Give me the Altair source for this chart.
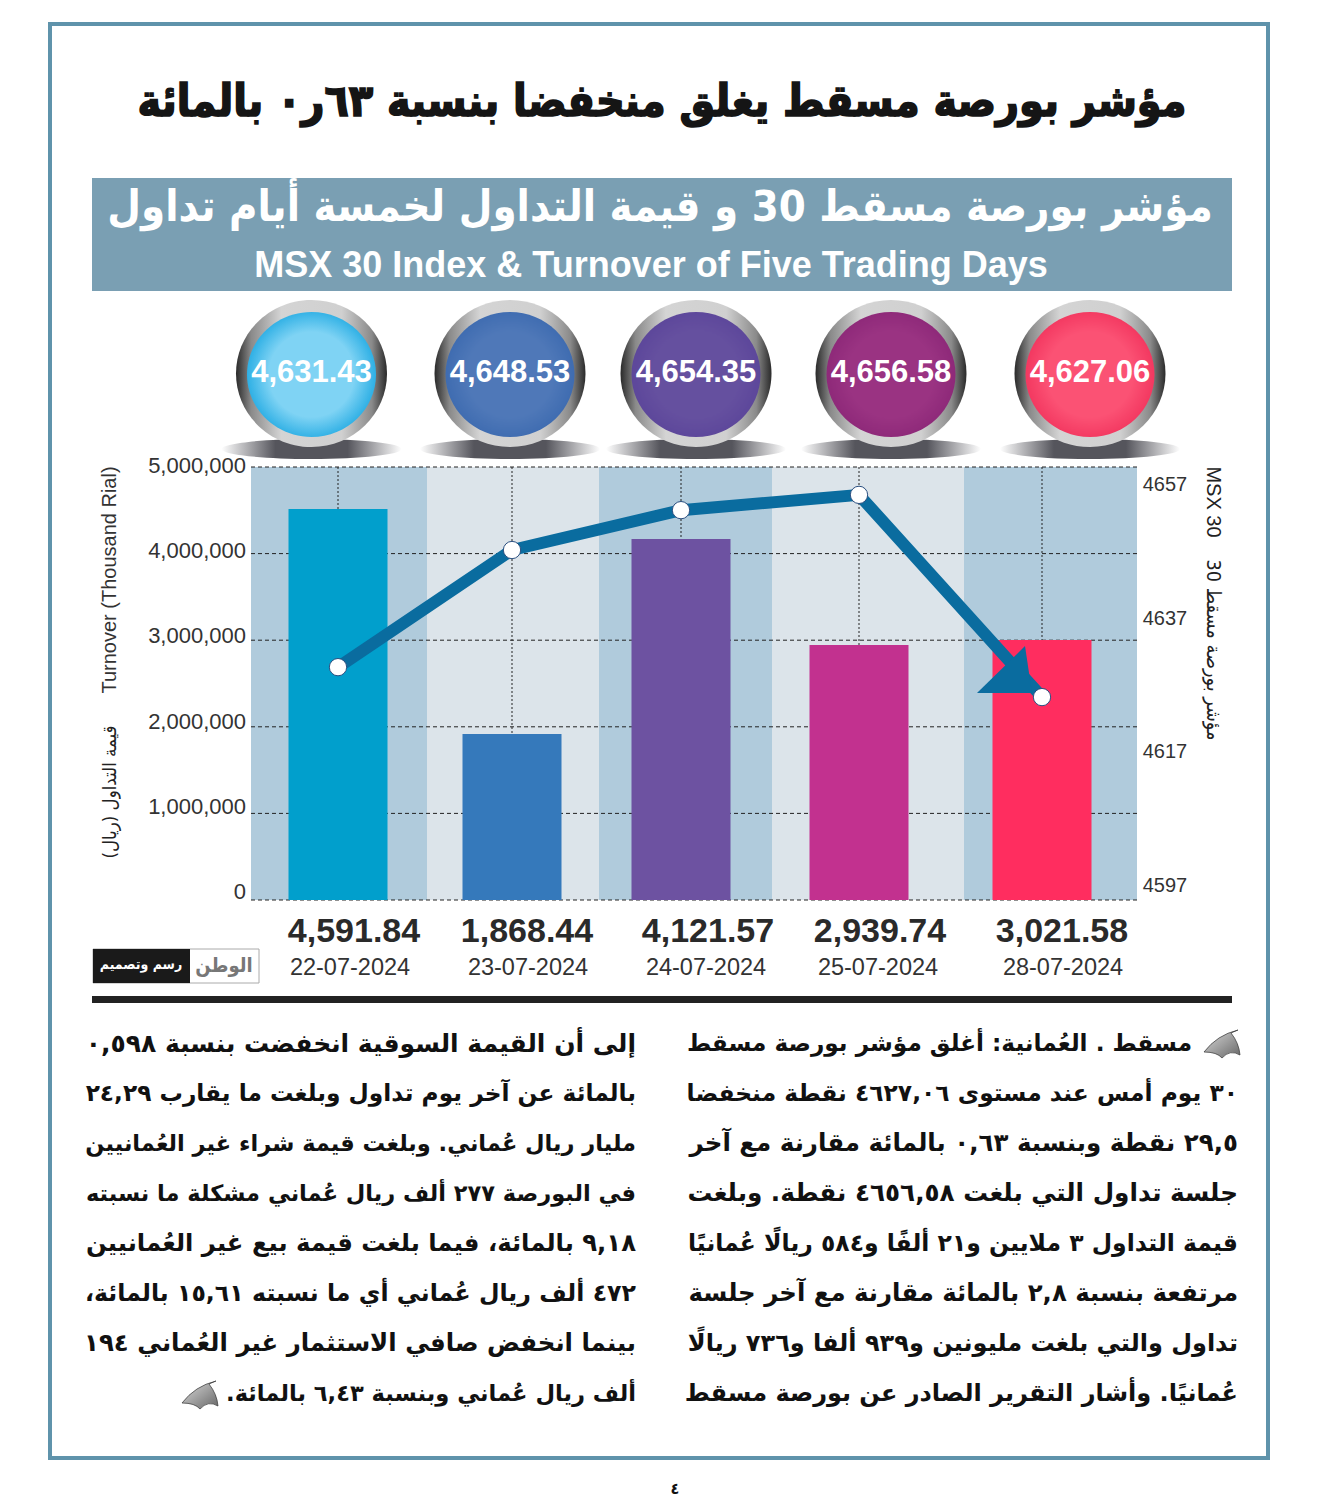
import altair as alt
import pandas as pd

dates = ["22-07-2024", "23-07-2024", "24-07-2024", "25-07-2024", "28-07-2024"]
turnover_labels = ["4,591.84", "1,868.44", "4,121.57", "2,939.74", "3,021.58"]
turnover_bars = [4515000, 1917000, 4169000, 2945000, 3002000]
index_values = [4631.43, 4648.53, 4654.35, 4656.58, 4627.06]
index_labels = ["4,631.43", "4,648.53", "4,654.35", "4,656.58", "4,627.06"]
bar_colors = ["#019fcc", "#3579bb", "#6d52a1", "#c2318f", "#ff2d5f"]
bubble_edge = ["#16a5e0", "#3a68ae", "#5a4499", "#8a2676", "#f0305a"]
bubble_mid = ["#7fd3f4", "#4f78b8", "#65509f", "#9a3382", "#fb5274"]
left_ticks = [0, 1000000, 2000000, 3000000, 4000000, 5000000]
right_ticks = [4597, 4617, 4637, 4657]
slots = [0, 1, 2, 3, 4]

title_ar = "مؤشر بورصة مسقط يغلق منخفضا بنسبة ٦٣ر٠ بالمائة"
header_ar = "مؤشر بورصة مسقط 30 و قيمة التداول لخمسة أيام تداول"
header_en = "MSX 30 Index & Turnover of Five Trading Days"
col_right = [
    "مسقط . العُمانية: أغلق مؤشر بورصة مسقط",
    "٣٠ يوم أمس عند مستوى ٤٦٢٧,٠٦ نقطة منخفضا",
    "٢٩,٥ نقطة وبنسبة ٠,٦٣ بالمائة مقارنة مع آخر",
    "جلسة تداول التي بلغت ٤٦٥٦,٥٨ نقطة. وبلغت",
    "قيمة التداول ٣ ملايين و٢١ ألفًا و٥٨٤ ريالًا عُمانيًا",
    "مرتفعة بنسبة ٢,٨ بالمائة مقارنة مع آخر جلسة",
    "تداول والتي بلغت مليونين و٩٣٩ ألفا و٧٣٦ ريالًا",
    "عُمانيًا. وأشار التقرير الصادر عن بورصة مسقط",
]
col_left = [
    "إلى أن القيمة السوقية انخفضت بنسبة ٠,٥٩٨",
    "بالمائة عن آخر يوم تداول وبلغت ما يقارب ٢٤,٢٩",
    "مليار ريال عُماني. وبلغت قيمة شراء غير العُمانيين",
    "في البورصة ٢٧٧ ألف ريال عُماني مشكلة ما نسبته",
    "٩,١٨ بالمائة، فيما بلغت قيمة بيع غير العُمانيين",
    "٤٧٢ ألف ريال عُماني أي ما نسبته ١٥,٦١ بالمائة،",
    "بينما انخفض صافي الاستثمار غير العُماني ١٩٤",
    "ألف ريال عُماني وبنسبة ٦,٤٣ بالمائة.",
]

NARROW = "Liberation Sans"
ARABIC = "DejaVu Sans Condensed"
BODY = "DejaVu Sans"
M = 8
one = pd.DataFrame({"a": [0]})
layers = []


def rtl(s):
    return "\u200f" + s + "\u200f"


def txt(s, x, y, size, font=ARABIC, color="#111111", weight="normal", align="center", angle=0, outline=0):
    kw = dict(font=font, fontSize=size, fontWeight=weight, align=align, baseline="middle", angle=angle, color=color)
    if outline:
        kw.update(stroke=color, strokeWidth=outline)
    return alt.Chart(one).mark_text(**kw).encode(x=alt.value(x - M), y=alt.value(y - M), text=alt.value(s))


def box(x0, y0, x1, y1, fill="transparent", stroke=None, sw=0):
    kw = dict(fill=fill)
    if stroke:
        kw.update(stroke=stroke, strokeWidth=sw)
    return alt.Chart(one).mark_rect(**kw).encode(
        x=alt.value(x0 - M), x2=alt.value(x1 - M), y=alt.value(y0 - M), y2=alt.value(y1 - M)
    )


def ellipse_path(rx, ry):
    return f"M{-rx},0 A{rx},{ry} 0 1,1 {rx},0 A{rx},{ry} 0 1,1 {-rx},0 Z"


def shape(path, x, y, fill, stroke=None):
    kw = dict(shape=path, size=4, filled=True, opacity=1, fill=fill, strokeWidth=0)
    if stroke:
        kw.update(stroke=stroke, strokeWidth=0.7)
    return alt.Chart(one).mark_point(**kw).encode(x=alt.value(x - M), y=alt.value(y - M))


def grad(stops, **kw):
    return alt.Gradient(
        gradient=kw.pop("gradient", "linear"),
        stops=[alt.GradientStop(color=c, offset=o) for o, c in stops],
        **kw,
    )


# scales -------------------------------------------------------------------
x_stops = [-0.5, 0, 0.5, 1, 1.5, 2, 2.5, 3, 3.5, 4, 4.5]
x_px = [251, 338, 427, 512, 599, 681, 772, 859, 964, 1042, 1137]
xs = alt.Scale(domain=x_stops, range=[p - M for p in x_px])
ys = alt.Scale(domain=[0, 5000000], range=[900 - M, 467 - M])
yi = alt.Scale(domain=[4597, 4657], range=[903 - M, 492 - M])

# frame, title, header -----------------------------------------------------
layers.append(box(50, 24, 1268, 1458, fill="#ffffff", stroke="#5f93ab", sw=4))
layers.append(txt(rtl(title_ar), 662, 103, 44.3, weight="bold", color="#151515", outline=1.6))
layers.append(box(92, 178, 1232, 291, fill="#7a9fb3"))
layers.append(txt(rtl(header_ar), 660, 208, 43.2, weight="bold", color="#ffffff"))
layers.append(txt(header_en, 651, 266, 36, font=NARROW, weight="bold", color="#ffffff"))

# bubbles ------------------------------------------------------------------
bubble_x = [311.5, 510, 696, 891, 1090]
for i in range(5):
    bx = bubble_x[i]
    layers.append(shape(ellipse_path(90, 10), bx, 449,
                        grad([(0, "#ffffff"), (0.3, "#55555c"), (0.7, "#55555c"), (1, "#ffffff")],
                             x1=0, y1=0, x2=1, y2=0)))
    layers.append(shape(ellipse_path(75.5, 73.5), bx, 373.5,
                        grad([(0, "#2a2a2a"), (0.1, "#8a8a8a"), (0.3, "#d4d4d4"), (0.7, "#d0d0d0"), (0.9, "#8a8a8a"), (1, "#2a2a2a")],
                             x1=0, y1=0, x2=1, y2=0)))
    layers.append(shape(ellipse_path(64.5, 62.5), bx, 374.5,
                        grad([(0, bubble_mid[i]), (0.6, bubble_mid[i]), (1, bubble_edge[i])],
                             gradient="radial", x1=0.5, y1=0.5, r1=0, x2=0.5, y2=0.5, r2=0.55)))
bubbles = pd.DataFrame({"slot": slots, "label": index_labels})
layers.append(alt.Chart(bubbles).mark_text(font=NARROW, fontSize=31, fontWeight="bold", color="#ffffff", baseline="middle").encode(
    x=alt.X("slot:Q", scale=alt.Scale(domain=slots, range=[p - M for p in bubble_x]), axis=None),
    y=alt.value(373 - M), text="label:N"))

# plot background and grid ---------------------------------------------------
bands = pd.DataFrame({
    "b0": [-0.5, 0.5, 1.5, 2.5, 3.5],
    "b1": [0.5, 1.5, 2.5, 3.5, 4.5],
    "shade": ["a", "b", "a", "b", "a"],
})
layers.append(alt.Chart(bands).mark_rect().encode(
    x=alt.X("b0:Q", scale=xs, axis=None), x2="b1:Q",
    y=alt.value(467 - M), y2=alt.value(900 - M),
    color=alt.Color("shade:N", scale=alt.Scale(domain=["a", "b"], range=["#b0cbdc", "#dce4ea"]), legend=None),
))
gl = pd.DataFrame({"v": left_ticks})
layers.append(alt.Chart(gl).mark_rule(color="#222222", strokeWidth=1, strokeDash=[4, 3]).encode(
    y=alt.Y("v:Q", scale=ys, axis=None), x=alt.value(251 - M), x2=alt.value(1137 - M)))
gv = pd.DataFrame({"slot": slots})
layers.append(alt.Chart(gv).mark_rule(color="#222222", strokeWidth=1, strokeDash=[2, 2]).encode(
    x=alt.X("slot:Q", scale=xs, axis=None), y=alt.value(467 - M), y2=alt.value(900 - M)))

# bars -----------------------------------------------------------------------
data = pd.DataFrame({"slot": slots, "date": dates, "turnover": turnover_bars, "label": turnover_labels,
                     "index": index_values, "color": bar_colors})
layers.append(alt.Chart(data).mark_bar(size=99, orient="vertical").encode(
    x=alt.X("slot:Q", scale=xs, axis=None),
    y=alt.Y("turnover:Q", scale=ys, axis=None, stack=None),
    color=alt.Color("color:N", scale=None, legend=None)))

# index line, arrow head and markers ------------------------------------------
layers.append(alt.Chart(data).mark_line(color="#0a6c9f", strokeWidth=12, strokeJoin="miter").encode(
    x=alt.X("slot:Q", scale=xs, axis=None), y=alt.Y("index:Q", scale=yi, axis=None), order="slot:Q"))
arrow = data[data.slot == 4]
layers.append(alt.Chart(arrow).mark_point(shape="M-10,-4 L-17,-51 L-65,-4 Z", size=4, filled=True, opacity=1, color="#0a6c9f", strokeWidth=0).encode(
    x=alt.X("slot:Q", scale=xs, axis=None), y=alt.Y("index:Q", scale=yi, axis=None)))
layers.append(alt.Chart(data).mark_point(shape="circle", size=300, filled=True, opacity=1, fill="#ffffff", stroke="#2b4f80", strokeWidth=1).encode(
    x=alt.X("slot:Q", scale=xs, axis=None), y=alt.Y("index:Q", scale=yi, axis=None)))

# axis labels -----------------------------------------------------------------
lt = pd.DataFrame({"v": left_ticks, "t": [f"{v:,}" for v in left_ticks]})
layers.append(alt.Chart(lt).mark_text(font=NARROW, fontSize=22, color="#333333", align="right", baseline="middle").encode(
    x=alt.value(246 - M),
    y=alt.Y("v:Q", scale=alt.Scale(domain=[0, 5000000], range=[892 - M, 466 - M]), axis=None), text="t:N"))
rt = pd.DataFrame({"v": right_ticks, "t": [str(v) for v in right_ticks]})
layers.append(alt.Chart(rt).mark_text(font=NARROW, fontSize=20, color="#333333", align="center", baseline="middle").encode(
    x=alt.value(1165 - M),
    y=alt.Y("v:Q", scale=alt.Scale(domain=[4597, 4657], range=[886 - M, 485 - M]), axis=None), text="t:N"))

layers.append(txt("Turnover (Thousand Rial)", 110, 580, 20, font=NARROW, color="#333333", angle=270))
layers.append(txt("قيمة التداول (ريال)", 110, 792, 18.5, color="#222222", angle=270))
layers.append(txt("MSX 30", 1213, 502, 20, font="Liberation Sans", color="#222222", angle=90))
layers.append(txt(rtl("مؤشر بورصة مسقط 30"), 1213, 650, 19.7, color="#222222", angle=90))

# bottom labels ---------------------------------------------------------------
layers.append(alt.Chart(data).mark_text(font=NARROW, fontSize=34, fontWeight="bold", color="#2a2a2a", baseline="middle").encode(
    x=alt.X("slot:Q", scale=alt.Scale(domain=slots, range=[354 - M, 527 - M, 708 - M, 880 - M, 1062 - M]), axis=None),
    y=alt.value(932 - M), text="label:N"))
layers.append(alt.Chart(data).mark_text(font=NARROW, fontSize=23.5, color="#333333", baseline="middle").encode(
    x=alt.X("slot:Q", scale=alt.Scale(domain=slots, range=[350 - M, 528 - M, 706 - M, 878 - M, 1063 - M]), axis=None),
    y=alt.value(968 - M), text="date:N"))

# credit box and rule ----------------------------------------------------------
layers.append(box(93, 949, 259, 983, fill="#ffffff", stroke="#aaaaaa", sw=1))
layers.append(box(93, 949, 190, 983, fill="#1a1a1a"))
layers.append(txt(rtl("رسم وتصميم"), 141, 965, 14, color="#ffffff", weight="bold"))
layers.append(txt(rtl("الوطن"), 224, 966, 20, color="#777777", weight="bold"))
layers.append(box(92, 996, 1232, 1003, fill="#222222"))

# body text --------------------------------------------------------------------
right_sizes = [23.2, 23.4, 24.5, 24.7, 23.5, 24.4, 24, 24]
left_sizes = [25, 23.3, 22.5, 22.5, 24.3, 23.7, 24.4, 22.6]
for i, line in enumerate(col_right):
    layers.append(txt(rtl(line), 1192 if i == 0 else 1238, 1044 + 50 * i, right_sizes[i], font=BODY, weight="bold", align="right"))
for i, line in enumerate(col_left):
    layers.append(txt(rtl(line), 636, 1044 + 50 * i, left_sizes[i], font=BODY, weight="bold", align="right"))

sail = "M-18,9 Q-5,-8 16,-13 L9,-10 Q17,0 18,12 Q8,6 0,15 Q-5,9 -18,9 Z"
sail_fill = grad([(0, "#dddddd"), (1, "#666666")], x1=0, y1=0, x2=1, y2=1)
layers.append(shape(sail, 1222, 1043, sail_fill, stroke="#333333"))
layers.append(shape(sail, 200, 1394, sail_fill, stroke="#333333"))
layers.append(txt("٤", 675, 1489, 16, weight="bold"))

chart = alt.layer(*layers).resolve_scale(x="independent", y="independent", color="independent").properties(
    width=1311, height=1492, padding=0, autosize=alt.AutoSizeParams(type="none"),
    background="#ffffff",
).configure_view(stroke=None)

chart.save("out.html", embed_options={"renderer": "svg", "actions": False})
